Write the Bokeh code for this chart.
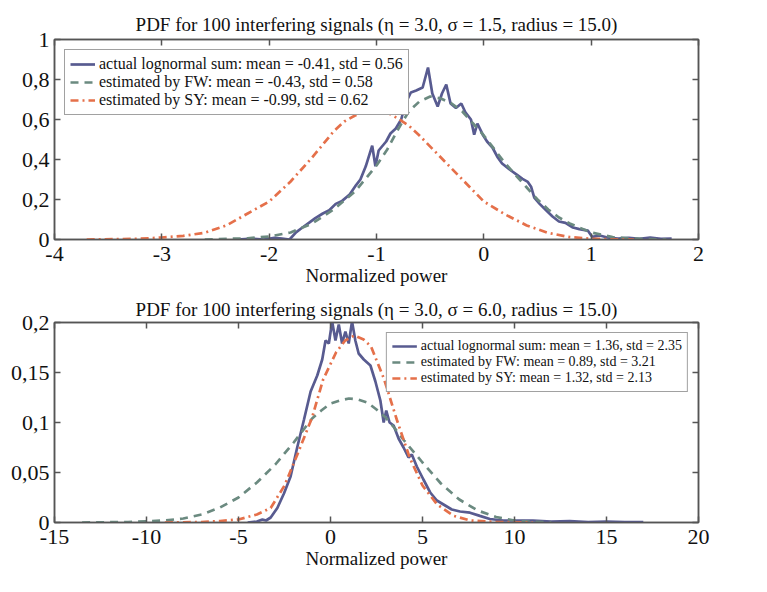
from bokeh.plotting import figure
from bokeh.layouts import column
from bokeh.models import Legend, LegendItem, LinearAxis, FixedTicker, Range1d
from bokeh.embed import file_html
from bokeh.resources import INLINE

FONT = "Liberation Serif"
FRAME = "#555555"
C_ACT = "#585b90"
C_FW = "#6b8a80"
C_SY = "#e5704a"

# ---------------- data: top panel ----------------
top_title = "PDF for 100 interfering signals (\u03b7 = 3.0, \u03c3 = 1.5, radius = 15.0)"
top_x_ticks = [-4, -3, -2, -1, 0, 1, 2]
top_x_labels = ["-4", "-3", "-2", "-1", "0", "1", "2"]
top_y_ticks = [0, 0.2, 0.4, 0.6, 0.8, 1]
top_y_labels = ["0", "0,2", "0,4", "0,6", "0,8", "1"]
top_labels = ["actual lognormal sum: mean = -0.41, std = 0.56",
              "estimated by FW: mean = -0.43, std = 0.58",
              "estimated by SY: mean = -0.99, std = 0.62"]

top_act_x = [-2.3, -2.15, -2.05, -1.95, -1.88, -1.81, -1.75, -1.69, -1.63, -1.57,
             -1.50, -1.44, -1.38, -1.32, -1.25, -1.19, -1.15, -1.10, -1.04, -1.01,
             -0.98, -0.91, -0.87, -0.82, -0.77, -0.73, -0.68, -0.63, -0.57, -0.52,
             -0.48, -0.43, -0.39, -0.35, -0.31, -0.26, -0.21, -0.17, -0.12, -0.09,
             -0.06, -0.01, 0.03, 0.08, 0.13, 0.17, 0.24, 0.30, 0.36, 0.41,
             0.44, 0.47, 0.52, 0.58, 0.64, 0.70, 0.76, 0.83, 0.89, 0.97,
             1.01, 1.08, 1.15, 1.25, 1.35, 1.45, 1.55, 1.65, 1.75]
top_act_y = [0.0, 0.004, 0.0, 0.008, 0.004, 0.0, 0.036, 0.06, 0.083, 0.107,
             0.13, 0.146, 0.178, 0.193, 0.225, 0.272, 0.30, 0.366, 0.469, 0.366,
             0.445, 0.49, 0.53, 0.555, 0.60, 0.68, 0.735, 0.745, 0.76, 0.86,
             0.73, 0.665, 0.73, 0.775, 0.68, 0.657, 0.68, 0.634, 0.60, 0.524,
             0.58, 0.524, 0.49, 0.46, 0.41, 0.38, 0.35, 0.327, 0.303, 0.288,
             0.264, 0.209, 0.178, 0.146, 0.115, 0.09, 0.083, 0.06, 0.052, 0.044,
             0.013, 0.02, 0.01, 0.004, 0.008, 0.003, 0.009, 0.003, 0.005]

top_fw_x = [-2.6, -2.2, -2.0, -1.8, -1.6, -1.4, -1.2, -1.0, -0.9, -0.8,
            -0.7, -0.6, -0.5, -0.4, -0.3, -0.2, -0.1, 0.0, 0.1, 0.2,
            0.3, 0.4, 0.5, 0.6, 0.7, 0.8, 1.0, 1.2, 1.4, 1.7]
top_fw_y = [0.0, 0.006, 0.015, 0.035, 0.08, 0.15, 0.24, 0.37, 0.45, 0.55,
            0.64, 0.69, 0.715, 0.705, 0.68, 0.64, 0.58, 0.52, 0.45, 0.38,
            0.32, 0.26, 0.2, 0.15, 0.11, 0.08, 0.035, 0.012, 0.004, 0.0]

top_sy_x = [-3.7, -3.4, -3.2, -3.0, -2.8, -2.6, -2.4, -2.2, -2.0, -1.8,
            -1.6, -1.4, -1.3, -1.2, -1.1, -1.0, -0.9, -0.8, -0.7, -0.6,
            -0.4, -0.2, 0.0, 0.2, 0.4, 0.6, 0.8, 1.0, 1.2, 1.4]
top_sy_y = [0.0, 0.002, 0.004, 0.01, 0.018, 0.034, 0.07, 0.13, 0.19, 0.29,
            0.41, 0.54, 0.59, 0.62, 0.64, 0.645, 0.635, 0.605, 0.57, 0.52,
            0.41, 0.30, 0.19, 0.125, 0.07, 0.033, 0.012, 0.004, 0.001, 0.0]

# ---------------- data: bottom panel ----------------
bot_title = "PDF for 100 interfering signals (\u03b7 = 3.0, \u03c3 = 6.0, radius = 15.0)"
bot_x_ticks = [-15, -10, -5, 0, 5, 10, 15, 20]
bot_x_labels = ["-15", "-10", "-5", "0", "5", "10", "15", "20"]
bot_y_ticks = [0, 0.05, 0.1, 0.15, 0.2]
bot_y_labels = ["0", "0,05", "0,1", "0,15", "0,2"]
bot_labels = ["actual lognormal sum: mean = 1.36, std = 2.35",
              "estimated by FW: mean = 0.89, std = 3.21",
              "estimated by SY: mean = 1.32, std = 2.13"]

bot_act_x = [-4.5, -4.0, -3.7, -3.5, -3.25, -2.89, -2.53, -2.17, -1.81, -1.44,
             -1.08, -0.72, -0.45, -0.27, -0.09, 0.09, 0.27, 0.45, 0.63, 0.81,
             0.99, 1.17, 1.35, 1.53, 1.81, 2.17, 2.44, 2.71, 2.89, 3.03,
             3.21, 3.43, 3.70, 3.97, 4.24, 4.42, 4.69, 5.05, 5.42, 5.78,
             6.14, 6.59, 7.04, 7.58, 8.12, 8.66, 9.39, 10.3, 11, 12,
             13, 14, 15, 16, 17]
bot_act_y = [0.0, 0.001, 0.003, 0.002, 0.005, 0.0145, 0.029, 0.046, 0.075, 0.103,
             0.131, 0.147, 0.163, 0.182, 0.179, 0.201, 0.182, 0.198, 0.179, 0.191,
             0.179, 0.201, 0.182, 0.169, 0.163, 0.157, 0.141, 0.122, 0.10, 0.112,
             0.10, 0.097, 0.084, 0.075, 0.065, 0.068, 0.056, 0.043, 0.030, 0.022,
             0.018, 0.013, 0.011, 0.0098, 0.0066, 0.0035, 0.002, 0.002, 0.002, 0.001,
             0.0015, 0.0005, 0.001, 0.0005, 0.0005]

bot_fw_x = [-13.5, -11, -9, -8, -7, -6, -5, -4, -3, -2,
            -1.5, -1, -0.5, 0, 0.5, 1, 1.5, 2, 2.5, 3,
            3.5, 4, 5, 6, 7, 8, 9, 10, 11, 12]
bot_fw_y = [0.0, 0.0005, 0.002, 0.004, 0.008, 0.015, 0.025, 0.04, 0.058, 0.08,
            0.092, 0.104, 0.112, 0.119, 0.122, 0.124, 0.123, 0.12, 0.113, 0.105,
            0.094, 0.082, 0.06, 0.039, 0.023, 0.012, 0.0055, 0.002, 0.0007, 0.0]

bot_sy_x = [-9, -7, -6, -5, -4, -3.25, -2.5, -1.8, -1.0, -0.4,
            0.3, 0.8, 1.3, 1.8, 2.2, 2.9, 3.6, 4.3, 5.0, 5.8,
            6.7, 7.6, 9, 11]
bot_sy_y = [0.0, 0.0004, 0.0015, 0.003, 0.008, 0.0145, 0.037, 0.068, 0.105, 0.143,
            0.17, 0.182, 0.187, 0.183, 0.176, 0.144, 0.103, 0.065, 0.037, 0.018,
            0.0066, 0.002, 0.0004, 0.0]

x_label = "Normalized power"


def style_axis(ax, ticks, labels, show, standoff=5):
    ax.ticker = FixedTicker(ticks=ticks)
    ax.axis_line_color = FRAME
    ax.axis_line_width = 1.5
    ax.major_tick_line_color = FRAME
    ax.major_tick_line_width = 1.5
    ax.major_tick_in = 6
    ax.major_tick_out = 0
    ax.minor_tick_line_color = None
    ax.major_label_text_font = FONT
    ax.major_label_text_color = "#111111"
    if show:
        ax.major_label_overrides = {t: l for t, l in zip(ticks, labels)}
        ax.major_label_text_font_size = "22px"
        ax.major_label_standoff = standoff
    else:
        ax.major_label_overrides = {t: "" for t in ticks}
        ax.major_label_text_font_size = "1px"
        ax.major_label_standoff = 0


def make_panel(title, xr, yr, xt, xl, yt, yl, act, fw, sy, labels,
               height, top_border, title_standoff, legend_loc, legend_font):
    p = figure(width=751, height=height, output_backend="svg", toolbar_location=None,
               x_range=Range1d(*xr), y_range=Range1d(*yr),
               min_border_left=54, min_border_right=53,
               min_border_top=top_border, min_border_bottom=54)
    p.title.text = title
    p.title.text_font = FONT
    p.title.text_font_size = "19px"
    p.title.text_font_style = "normal"
    p.title.align = "center"
    p.title.text_color = "#111111"
    p.title.standoff = title_standoff
    p.grid.visible = False
    p.outline_line_color = FRAME
    p.outline_line_width = 1.5
    p.background_fill_color = "white"
    p.border_fill_color = "white"

    style_axis(p.xaxis[0], xt, xl, True, 7)
    style_axis(p.yaxis[0], yt, yl, True, 5)
    p.xaxis[0].axis_label = x_label
    p.xaxis[0].axis_label_text_font = FONT
    p.xaxis[0].axis_label_text_font_size = "19px"
    p.xaxis[0].axis_label_text_font_style = "normal"
    p.xaxis[0].axis_label_text_color = "#111111"
    p.xaxis[0].axis_label_standoff = 1

    top_ax = LinearAxis()
    style_axis(top_ax, xt, xl, False)
    p.add_layout(top_ax, "above")
    right_ax = LinearAxis()
    style_axis(right_ax, yt, yl, False)
    p.add_layout(right_ax, "right")

    r_act = p.line(act[0], act[1], line_color=C_ACT, line_width=2.7)
    r_fw = p.line(fw[0], fw[1], line_color=C_FW, line_width=2.7, line_dash="8 6")
    r_sy = p.line(sy[0], sy[1], line_color=C_SY, line_width=2.7, line_dash="8 4 2 4")

    leg = Legend(items=[LegendItem(label=labels[0], renderers=[r_act]),
                        LegendItem(label=labels[1], renderers=[r_fw]),
                        LegendItem(label=labels[2], renderers=[r_sy])],
                 location=legend_loc, margin=10, padding=5, spacing=0,
                 glyph_width=25, glyph_height=12, label_height=12,
                 label_standoff=4,
                 label_text_font=FONT, label_text_font_size=legend_font,
                 label_text_color="#111111",
                 border_line_color="#444444", border_line_width=1.5,
                 background_fill_color="white", background_fill_alpha=1.0)
    p.add_layout(leg, "center")
    return p


p1 = make_panel(top_title, (-4, 2), (0, 1), top_x_ticks, top_x_labels,
                top_y_ticks, top_y_labels,
                (top_act_x, top_act_y), (top_fw_x, top_fw_y), (top_sy_x, top_sy_y),
                top_labels, 293, 39, 9, "top_left", "16px")
p2 = make_panel(bot_title, (-15, 20), (0, 0.2), bot_x_ticks, bot_x_labels,
                bot_y_ticks, bot_y_labels,
                (bot_act_x, bot_act_y), (bot_fw_x, bot_fw_y), (bot_sy_x, bot_sy_y),
                bot_labels, 283, 29, 5, "top_right", "14px")

layout = column(p1, p2, spacing=0)
open("out.html", "w").write(file_html(layout, INLINE))
